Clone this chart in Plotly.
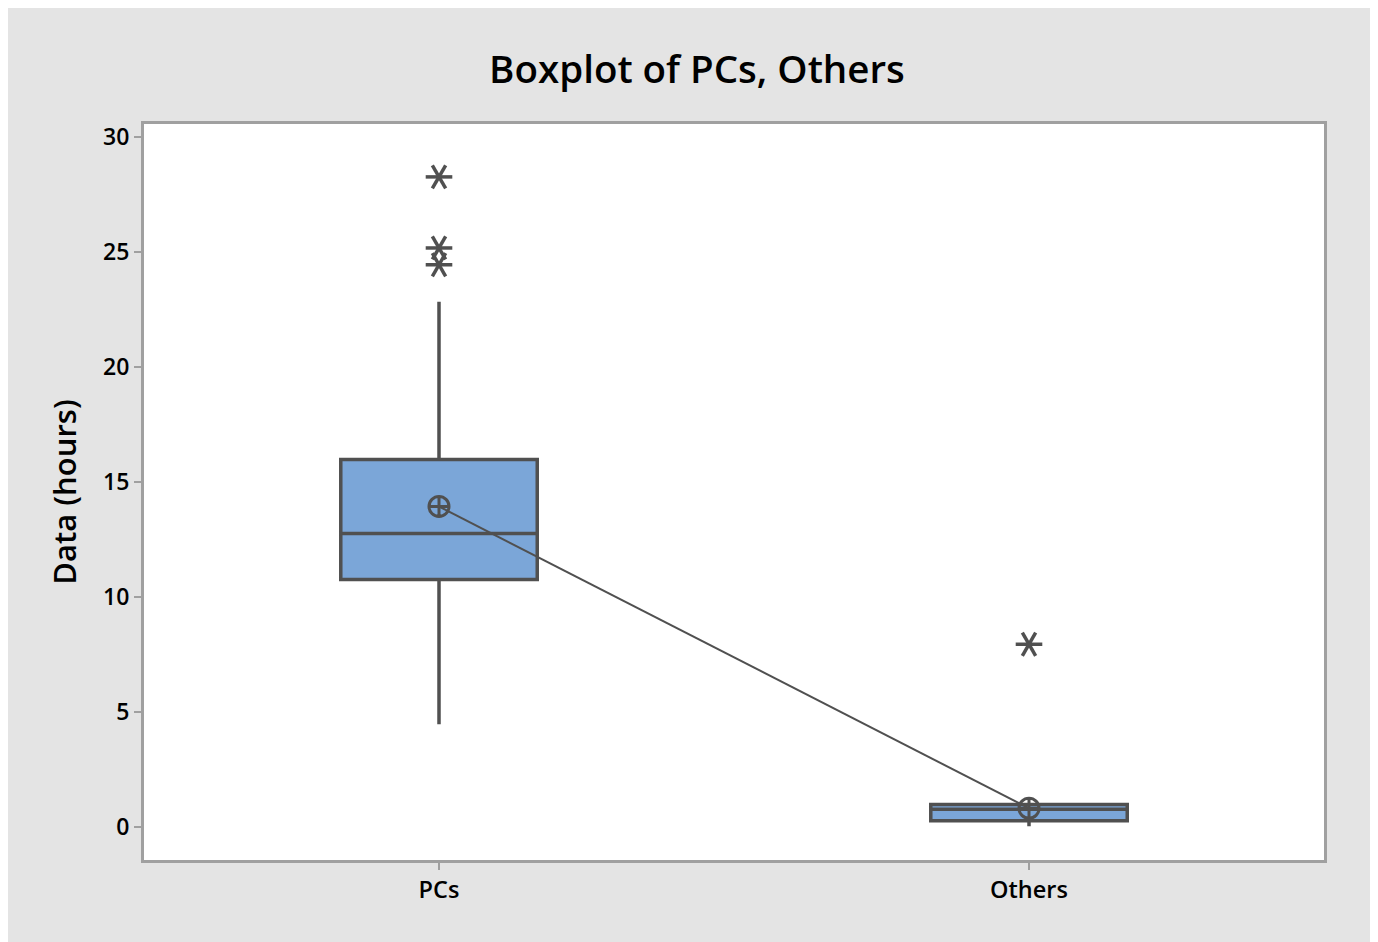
import plotly.graph_objects as go

categories = ["PCs", "Others"]
q1 = [10.77, 0.28]
median = [12.77, 0.78]
q3 = [15.98, 0.98]
lower_whisker = [4.47, 0.04]
upper_whisker = [22.84, 0.98]
means = [13.94, 0.82]
outlier_cats = ["PCs", "PCs", "PCs", "Others"]
outlier_vals = [28.27, 25.18, 24.45, 7.95]
y_ticks = [0, 5, 10, 15, 20, 25, 30]

LINE = "#505050"
FILL = "#7BA6D8"

fig = go.Figure()
fig.add_trace(go.Box(
    x=categories, q1=q1, median=median, q3=q3,
    lowerfence=lower_whisker, upperfence=upper_whisker,
    fillcolor=FILL, line=dict(color=LINE, width=3.5),
    width=0.333, whiskerwidth=0, boxpoints=False, showlegend=False,
    hoverinfo="skip",
))
fig.add_trace(go.Scatter(
    x=categories, y=means, mode="lines+markers",
    line=dict(color=LINE, width=2),
    marker=dict(symbol="circle-cross-open", size=20, color=LINE, line=dict(width=3)),
    showlegend=False,
))
for ang in [0, 60, 120]:
    fig.add_trace(go.Scatter(
        x=outlier_cats, y=outlier_vals, mode="markers",
        marker=dict(symbol="line-ew-open", size=19, angle=ang, color=LINE,
                    line=dict(width=3.5, color=LINE)),
        showlegend=False, hoverinfo="skip",
    ))

fig.update_layout(
    width=1378, height=942,
    paper_bgcolor="#e4e4e4", plot_bgcolor="white",
    margin=dict(l=136, r=62, t=116, b=90),
    title=dict(text="Boxplot of PCs, Others", x=0.5, xanchor="center",
               y=1 - 62 / 942, yanchor="middle",
               font=dict(family="Open Sans", size=38.5, color="black", weight=600)),
    font=dict(family="Open Sans", color="black"),
)
fig.update_xaxes(
    range=[-0.5, 1.5], showgrid=False, zeroline=False,
    showline=True, linecolor="#a0a0a0", linewidth=3, mirror=True,
    ticks="outside", ticklen=7, tickcolor="#a0a0a0", tickwidth=2,
    tickfont=dict(size=23.5, weight=600), categoryorder="array", categoryarray=categories,
)
fig.update_yaxes(
    range=[-1.43, 30.57], tickvals=y_ticks, showgrid=False, zeroline=False,
    showline=True, linecolor="#a0a0a0", linewidth=3, mirror=True,
    ticks="outside", ticklen=7, tickcolor="#a0a0a0", tickwidth=2,
    tickfont=dict(size=23, weight=600),
    title=dict(text="Data (hours)", font=dict(size=31, weight=600), standoff=18),
)
fig.write_html("out.html")
